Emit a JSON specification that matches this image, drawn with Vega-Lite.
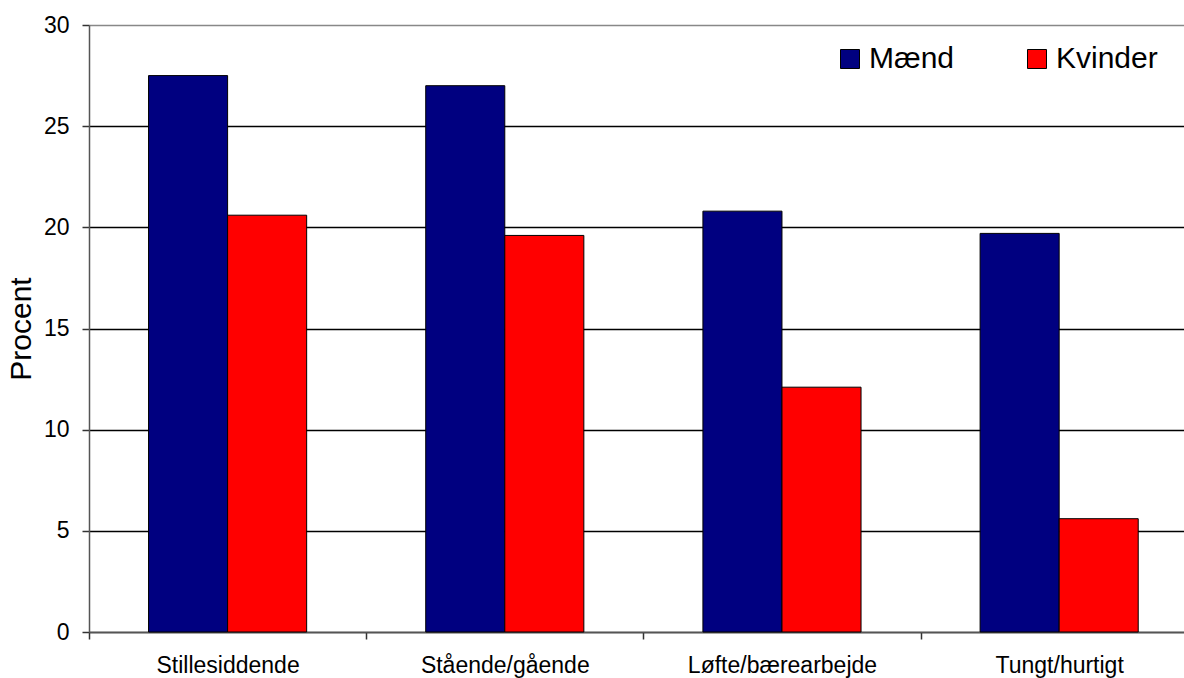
{
  "$schema": "https://vega.github.io/schema/vega-lite/v6.json",
  "width": 1095,
  "height": 607,
  "autosize": {"type": "none"},
  "padding": {"left": 89, "top": 25, "right": 0, "bottom": 46},
  "background": "white",
  "config": {
    "view": {"stroke": null},
    "font": "Liberation Sans"
  },
  "data": {
    "values": [
      {"Kategori": "Stillesiddende", "Køn": "Mænd", "Procent": 27.5},
      {"Kategori": "Stillesiddende", "Køn": "Kvinder", "Procent": 20.6},
      {"Kategori": "Stående/gående", "Køn": "Mænd", "Procent": 27.0},
      {"Kategori": "Stående/gående", "Køn": "Kvinder", "Procent": 19.6},
      {"Kategori": "Løfte/bærearbejde", "Køn": "Mænd", "Procent": 20.8},
      {"Kategori": "Løfte/bærearbejde", "Køn": "Kvinder", "Procent": 12.1},
      {"Kategori": "Tungt/hurtigt", "Køn": "Mænd", "Procent": 19.7},
      {"Kategori": "Tungt/hurtigt", "Køn": "Kvinder", "Procent": 5.6}
    ]
  },
  "mark": {"type": "bar", "stroke": "black", "strokeWidth": 1},
  "encoding": {
    "x": {
      "field": "Kategori",
      "type": "nominal",
      "sort": ["Stillesiddende", "Stående/gående", "Løfte/bærearbejde", "Tungt/hurtigt"],
      "scale": {"range": [0, 1108.76], "paddingInner": 0, "paddingOuter": 0},
      "axis": {
        "title": null,
        "labelAngle": 0,
        "labelFontSize": 23,
        "labelColor": "black",
        "labelPadding": 15,
        "labelLimit": 0,
        "tickBand": "extent",
        "tickSize": 7,
        "tickColor": "#333",
        "tickWidth": 1.5,
        "domainColor": "#555",
        "domainWidth": 1.5,
        "grid": false
      }
    },
    "xOffset": {
      "field": "Køn",
      "type": "nominal",
      "sort": ["Mænd", "Kvinder"],
      "scale": {"paddingInner": 0, "paddingOuter": 0.753}
    },
    "y": {
      "field": "Procent",
      "type": "quantitative",
      "scale": {"domain": [0, 30], "nice": false},
      "axis": {
        "title": "Procent",
        "titleFontSize": 30,
        "titleFontWeight": "normal",
        "titleColor": "black",
        "titlePadding": 7,
        "values": [0, 5, 10, 15, 20, 25, 30],
        "labelFontSize": 23,
        "labelColor": "black",
        "labelPadding": 13,
        "tickSize": 7,
        "tickColor": "#333",
        "tickWidth": 1.5,
        "domainColor": "#555",
        "domainWidth": 1.5,
        "grid": true,
        "gridColor": {"condition": {"test": "datum.value === 30", "value": "#888888"}, "value": "black"},
        "gridWidth": 1.5
      }
    },
    "fill": {
      "field": "Køn",
      "type": "nominal",
      "scale": {"domain": ["Mænd", "Kvinder"], "range": ["#000080", "#FF0000"]},
      "legend": {
        "title": null,
        "orient": "none",
        "legendX": 746,
        "legendY": 19,
        "direction": "horizontal",
        "symbolType": "square",
        "symbolSize": 361,
        "symbolStrokeColor": "black",
        "symbolStrokeWidth": 1,
        "labelFontSize": 30,
        "labelColor": "black",
        "labelOffset": 4,
        "columnPadding": 67
      }
    }
  }
}
